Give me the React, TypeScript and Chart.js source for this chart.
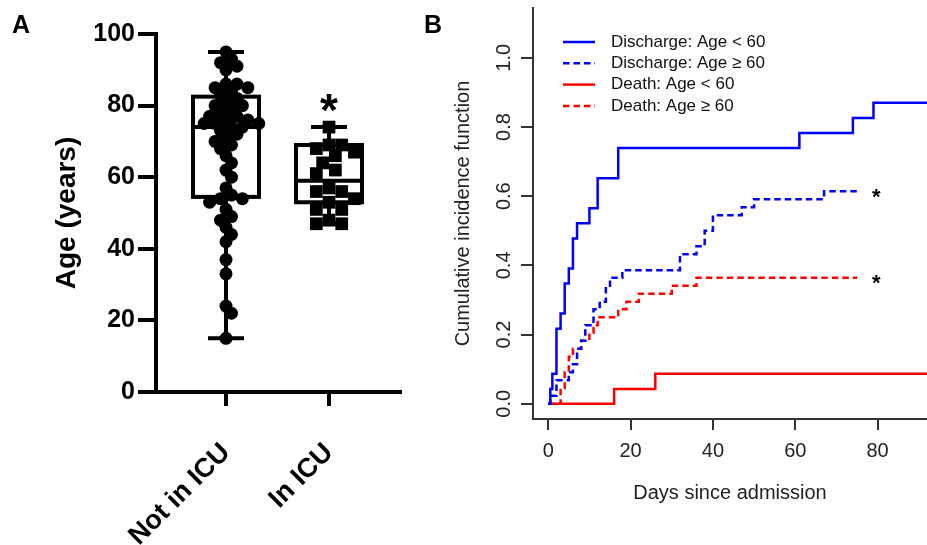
import React, { useEffect, useRef } from "react";
import { Chart, registerables } from "chart.js";

Chart.register(...registerables);

const FONT = "'Liberation Sans', Arial, sans-serif";

// ---------- Panel A data ----------
const groupLabels = ["Not in ICU", "In ICU"];
const notIcuAges = [95, 93, 92, 91, 90, 86, 86, 85, 85, 84, 83, 82, 81, 80, 80, 79, 78, 77, 77, 76, 76, 75, 75, 75, 74, 74, 73, 72, 71, 70, 69, 68, 66, 64, 62, 60, 57, 55, 54, 54, 53, 51, 49, 48, 46, 44, 42, 37, 33, 24, 22, 15];
const icuAges = [74, 69, 69, 68, 67, 66, 64, 62, 61, 57, 56, 56, 54, 53, 51, 51, 48, 47, 47];
// [min, q1, median, q3, max]
const notIcuBox = [15, 54.5, 74, 82.5, 95];
const icuBox = [47, 53, 59, 69, 74];
const ageTicks = [0, 20, 40, 60, 80, 100];

// ---------- Panel B data ----------
const dayTicks = [0, 20, 40, 60, 80];
const cifTicks = [0, 0.2, 0.4, 0.6, 0.8, 1.0];
const dischargeYoungDays = [0, 0.5, 1, 2, 3, 4, 5, 6, 7, 10, 12, 17, 61, 74, 79, 92];
const dischargeYoungCif = [0, 0.043, 0.087, 0.217, 0.261, 0.348, 0.391, 0.478, 0.522, 0.565, 0.652, 0.739, 0.783, 0.826, 0.87, 0.87];
const dischargeOldDays = [0, 0.5, 2, 5, 6, 7, 8, 9, 11, 12.5, 14, 15, 18, 32, 36, 38, 40, 47, 50, 67, 75];
const dischargeOldCif = [0, 0.023, 0.068, 0.091, 0.114, 0.159, 0.182, 0.227, 0.273, 0.295, 0.341, 0.364, 0.386, 0.432, 0.455, 0.5, 0.545, 0.568, 0.591, 0.614, 0.614];
const deathYoungDays = [0, 16, 26, 92];
const deathYoungCif = [0, 0.043, 0.087, 0.087];
const deathOldDays = [0, 3, 4, 5, 6, 8, 10, 11, 12, 17, 19, 22, 30, 36, 75];
const deathOldCif = [0, 0.045, 0.091, 0.136, 0.159, 0.182, 0.205, 0.227, 0.25, 0.273, 0.295, 0.318, 0.341, 0.364, 0.364];
const seriesLabels = ["Discharge: Age < 60", "Discharge: Age \u2265 60", "Death: Age < 60", "Death: Age \u2265 60"];
const starLevels = [0.614, 0.364];

// pixel-per-unit of panel A, used only to lay out the swarm
const A_Y_PX = 3.58;
const A_X_PX = 103;

function swarm(values: number[], center: number, diam: number, sep: number, step: number) {
  const placed: { x: number; y: number }[] = [];
  const out: { x: number; y: number }[] = [];
  for (const v of values) {
    const py = v * A_Y_PX;
    let chosen = 0;
    for (let k = 0; k < 80; k++) {
      const off = (k === 0 ? 0 : (k % 2 ? 1 : -1) * Math.ceil(k / 2)) * diam * step;
      const ok = placed.every((p) => (p.x - off) ** 2 + (p.y - py) ** 2 >= (diam * sep) ** 2);
      if (ok) {
        chosen = off;
        break;
      }
    }
    placed.push({ x: chosen, y: py });
    out.push({ x: center + chosen / A_X_PX, y: v });
  }
  return out;
}

const toXY = (xs: number[], ys: number[]) => xs.map((x, i) => ({ x, y: ys[i] }));

const boxPlugin = {
  id: "boxes",
  beforeDatasetsDraw(chart: any) {
    const { ctx, scales } = chart;
    const x = scales.x, y = scales.y;
    ctx.save();
    ctx.strokeStyle = "#000";
    ctx.lineWidth = 4;
    [notIcuBox, icuBox].forEach((b, i) => {
      const cx = x.getPixelForValue(i + 1);
      const [mn, q1, md, q3, mx] = b.map((v) => y.getPixelForValue(v));
      const hw = 33, cw = 18;
      ctx.strokeRect(cx - hw, q3, 2 * hw, q1 - q3);
      ctx.beginPath();
      ctx.moveTo(cx - hw, md); ctx.lineTo(cx + hw, md);
      ctx.moveTo(cx, q3); ctx.lineTo(cx, mx);
      ctx.moveTo(cx, q1); ctx.lineTo(cx, mn);
      ctx.moveTo(cx - cw, mx); ctx.lineTo(cx + cw, mx);
      ctx.moveTo(cx - cw, mn); ctx.lineTo(cx + cw, mn);
      ctx.stroke();
    });
    ctx.restore();
  },
  afterDraw(chart: any) {
    const { ctx, scales } = chart;
    ctx.save();
    ctx.fillStyle = "#000";
    ctx.font = `bold 46px ${FONT}`;
    ctx.textAlign = "center";
    ctx.textBaseline = "alphabetic";
    ctx.fillText("*", scales.x.getPixelForValue(2), scales.y.getPixelForValue(81.5) + 0.56 * 46);
    ctx.font = `bold 25px ${FONT}`;
    ctx.textAlign = "left";
    ctx.fillText("A", 12, 33);
    ctx.restore();
  },
};

const panelBPlugin = {
  id: "panelB",
  afterDraw(chart: any) {
    const { ctx, scales } = chart;
    const x = scales.x, y = scales.y;
    ctx.save();
    // y tick labels, rotated like R
    ctx.fillStyle = "#222";
    ctx.font = `20px ${FONT}`;
    ctx.textAlign = "center";
    ctx.textBaseline = "alphabetic";
    cifTicks.forEach((v) => {
      ctx.save();
      ctx.translate(90, y.getPixelForValue(v));
      ctx.rotate(-Math.PI / 2);
      ctx.fillText(v.toFixed(1), 0, 0);
      ctx.restore();
    });
    // legend
    const rows = chart.data.datasets;
    rows.forEach((ds: any, i: number) => {
      const ry = 42 + i * 21.3;
      ctx.beginPath();
      ctx.strokeStyle = ds.borderColor;
      ctx.lineWidth = 2.5;
      ctx.setLineDash(ds.borderDash || []);
      ctx.moveTo(143, ry);
      ctx.lineTo(175, ry);
      ctx.stroke();
      ctx.setLineDash([]);
      ctx.fillStyle = "#111";
      ctx.font = `17px ${FONT}`;
      ctx.textAlign = "left";
      ctx.textBaseline = "middle";
      ctx.fillText(ds.label, 191, ry);
    });
    // asterisks
    ctx.fillStyle = "#000";
    ctx.font = `bold 22px ${FONT}`;
    ctx.textAlign = "center";
    ctx.textBaseline = "alphabetic";
    starLevels.forEach((lv) => {
      ctx.fillText("*", x.getPixelForValue(79.7), y.getPixelForValue(lv) + 0.56 * 22);
    });
    // panel letter
    ctx.font = `bold 25px ${FONT}`;
    ctx.textAlign = "left";
    ctx.fillText("B", 4, 33);
    ctx.restore();
  },
};

export default function App() {
  const refA = useRef<HTMLCanvasElement>(null);
  const refB = useRef<HTMLCanvasElement>(null);

  useEffect(() => {
    const chartA = new Chart(refA.current as HTMLCanvasElement, {
      type: "scatter",
      data: {
        datasets: [
          {
            label: groupLabels[0],
            data: swarm(notIcuAges, 1, 13, 0.68, 0.42),
            pointStyle: "circle",
            pointRadius: 6.5,
            backgroundColor: "#000",
            borderColor: "#000",
            borderWidth: 0,
          },
          {
            label: groupLabels[1],
            data: swarm(icuAges, 2, 12.7, 0.9, 0.5),
            pointStyle: "rect",
            pointRadius: 9,
            backgroundColor: "#000",
            borderColor: "#000",
            borderWidth: 0,
          },
        ],
      },
      options: {
        animation: false,
        responsive: false,
        devicePixelRatio: 1,
        layout: { padding: { left: 0, right: 20, top: 34, bottom: 0 } },
        plugins: { legend: { display: false }, tooltip: { enabled: false } },
        scales: {
          x: {
            type: "linear",
            min: 0.3204,
            max: 2.689,
            afterBuildTicks: (s: any) => {
              s.ticks = [{ value: 1 }, { value: 2 }];
            },
            afterFit: (s: any) => {
              s.height = 153;
            },
            border: { display: true, color: "#000", width: 4 },
            grid: { drawOnChartArea: false, color: "#000", lineWidth: 4, tickLength: 14 },
            ticks: {
              autoSkip: false,
              minRotation: 45,
              maxRotation: 45,
              padding: 31,
              color: "#000",
              font: { family: FONT, size: 27, weight: "bold" },
              callback: (v: any) => groupLabels[Math.round(v) - 1] ?? "",
            },
          },
          y: {
            type: "linear",
            min: 0,
            max: 100,
            afterBuildTicks: (s: any) => {
              s.ticks = ageTicks.map((v) => ({ value: v }));
            },
            afterFit: (s: any) => {
              s.width = 156;
            },
            border: { display: true, color: "#000", width: 4 },
            grid: { drawOnChartArea: false, color: "#000", lineWidth: 4, tickLength: 18 },
            ticks: {
              padding: 3,
              color: "#000",
              font: { family: FONT, size: 25, weight: "bold" },
            },
            title: {
              display: true,
              text: "Age (years)",
              color: "#000",
              font: { family: FONT, size: 28, weight: "bold" },
              padding: { top: 50, bottom: 0 },
            },
          },
        },
      },
      plugins: [boxPlugin],
    } as any);

    const mk = (label: string, xs: number[], ys: number[], color: string, dashed: boolean) => ({
      label,
      data: toXY(xs, ys),
      borderColor: color,
      backgroundColor: color,
      borderWidth: 2.5,
      borderDash: dashed ? [6.5, 4] : [],
      pointRadius: 0,
      stepped: true,
      fill: false,
      tension: 0,
    });

    const chartB = new Chart(refB.current as HTMLCanvasElement, {
      type: "line",
      data: {
        datasets: [
          mk(seriesLabels[0], dischargeYoungDays, dischargeYoungCif, "#0000ff", false),
          mk(seriesLabels[1], dischargeOldDays, dischargeOldCif, "#0000ff", true),
          mk(seriesLabels[2], deathYoungDays, deathYoungCif, "#ff0000", false),
          mk(seriesLabels[3], deathOldDays, deathOldCif, "#ff0000", true),
        ],
      },
      options: {
        animation: false,
        responsive: false,
        devicePixelRatio: 1,
        layout: { padding: { left: 0, right: 0, top: 8, bottom: 40 } },
        plugins: { legend: { display: false }, tooltip: { enabled: false } },
        scales: {
          x: {
            type: "linear",
            min: -3.7,
            max: 92,
            afterBuildTicks: (s: any) => {
              s.ticks = dayTicks.map((v) => ({ value: v }));
            },
            afterFit: (s: any) => {
              s.height = 86;
            },
            border: { display: true, color: "#333", width: 2 },
            grid: { drawOnChartArea: false, color: "#333", lineWidth: 2, tickLength: 11 },
            ticks: {
              autoSkip: false,
              maxRotation: 0,
              padding: 9,
              color: "#222",
              font: { family: FONT, size: 20 },
            },
            title: {
              display: true,
              text: "Days since admission",
              color: "#222",
              font: { family: FONT, size: 20 },
              padding: { top: 0, bottom: 0 },
            },
          },
          y: {
            type: "linear",
            min: -0.044,
            max: 1.144,
            afterBuildTicks: (s: any) => {
              s.ticks = cifTicks.map((v) => ({ value: v }));
            },
            afterFit: (s: any) => {
              s.width = 113;
            },
            border: { display: true, color: "#333", width: 2 },
            grid: { drawOnChartArea: false, color: "#333", lineWidth: 2, tickLength: 12 },
            ticks: { display: false },
            title: {
              display: true,
              text: "Cumulative incidence function",
              color: "#222",
              font: { family: FONT, size: 20 },
              padding: { top: 31, bottom: 0 },
            },
          },
        },
      },
      plugins: [panelBPlugin],
    } as any);

    return () => {
      chartA.destroy();
      chartB.destroy();
    };
  }, []);

  return (
    <div
      style={{
        position: "fixed",
        left: 0,
        top: 0,
        width: 927,
        height: 545,
        background: "#fff",
        overflow: "hidden",
      }}
    >
      <canvas ref={refA} width={420} height={545} style={{ position: "absolute", left: 0, top: 0 }} />
      <canvas ref={refB} width={507} height={545} style={{ position: "absolute", left: 420, top: 0 }} />
    </div>
  );
}
